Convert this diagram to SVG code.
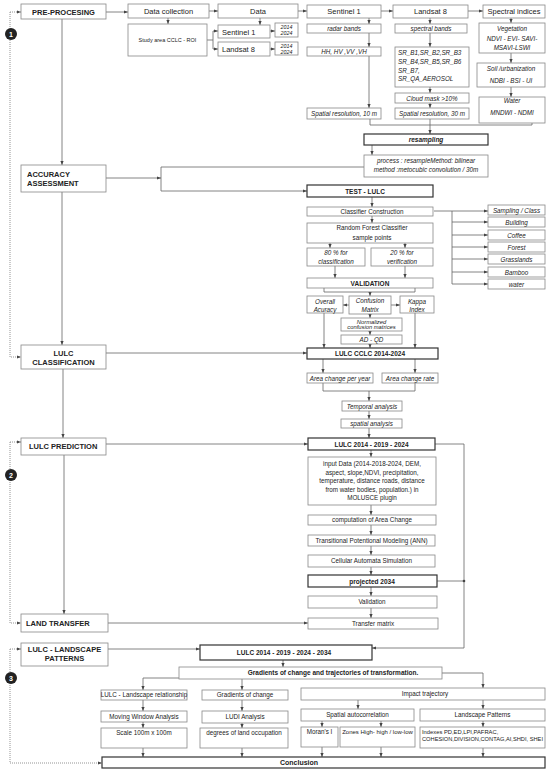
<svg xmlns="http://www.w3.org/2000/svg" width="550" height="774" viewBox="0 0 550 774">
<style>
text{font-family:"Liberation Sans",Arial,sans-serif;fill:#222;text-anchor:middle}
.b{fill:#fff;stroke:#888;stroke-width:0.8}
.k{fill:#fff;stroke:#333;stroke-width:1.2}
.l{fill:none;stroke:#666;stroke-width:0.8}
.d{fill:none;stroke:#888;stroke-width:0.9;stroke-dasharray:1 1}
.h{font-weight:bold;font-size:7.5px}
.m{font-size:7.5px}
.t{font-size:6.3px}
.i{font-size:6.3px;font-style:italic}
.s{font-weight:bold;font-size:6.5px}
.la{text-anchor:start}
.c{fill:#222}
.n{fill:#fff;font-weight:bold;font-size:7px}
</style>
<defs>
<marker id="a" markerUnits="userSpaceOnUse" markerWidth="4" markerHeight="4" viewBox="0 0 4 4" refX="4" refY="2" orient="auto"><path d="M0,0.4L4,2L0,3.6z" fill="#444"/></marker>
</defs>
<rect width="550" height="774" fill="#fff"/>
<g id="connectors">
<g class="l" marker-end="url(#a)">
<path d="M106,12H128"/><path d="M209,11H218"/><path d="M298,11H307"/><path d="M381,11H393"/><path d="M468,11H483"/>
<path d="M168,18V24"/><path d="M260,18V25"/>
<path d="M213,31H218"/><path d="M213,49H218"/>
<path d="M270,31H275"/><path d="M270,49H275"/>
<path d="M369,18V24"/><path d="M369,33V47"/><path d="M369,56V108"/>
<path d="M430,18V24"/><path d="M430,33V47"/><path d="M430,87V93"/><path d="M430,103V108"/>
<path d="M511,18V23"/><path d="M511,53V63"/><path d="M511,87V97"/>
<path d="M430,119V134"/><path d="M372,145V155"/>
<path d="M364,167H161V191H307"/><path d="M106,178H161"/>
<path d="M372,197V207"/><path d="M372,216V223"/>
<path d="M330,243V248"/><path d="M405,243V248"/>
<path d="M335,266V278"/><path d="M405,266V278"/>
<path d="M370,292V296"/>
<path d="M349,305H343"/><path d="M391,305H400"/>
<path d="M370,314V318"/><path d="M370,331V335"/><path d="M370,344V348"/>
<path d="M324,313V348"/><path d="M415,313V348"/>
<path d="M106,353H307"/>
<path d="M323,359V373"/><path d="M415,359V373"/>
<path d="M369,391V401"/><path d="M369,411V419"/><path d="M369,428V438"/>
<path d="M106,444H308"/>
<path d="M371,450V457"/><path d="M371,505V515"/><path d="M371,525V535"/><path d="M371,546V555"/><path d="M371,567V575"/><path d="M371,587V596"/><path d="M371,608V618"/>
<path d="M435,444H464V648H372"/>
<path d="M108,623H308"/><path d="M108,649H200"/>
<path d="M283,660V667"/>
<path d="M179,678H143V690"/><path d="M242,679V690"/><path d="M442,673H483V688"/>
<path d="M143,700V711"/><path d="M143,722V728"/><path d="M143,748V757"/>
<path d="M242,700V711"/><path d="M242,723V728"/><path d="M242,748V757"/>
<path d="M358,700V709"/><path d="M483,700V709"/>
<path d="M322,721V727"/><path d="M381,721V727"/><path d="M483,721V727"/>
<path d="M322,747V757"/><path d="M381,747V757"/><path d="M483,748V757"/>
<path d="M434,211H488"/><path d="M452,222H488"/><path d="M452,235H488"/><path d="M452,247H488"/><path d="M452,259H488"/><path d="M452,272H488"/><path d="M452,284H488"/>
<path d="M62,19V165"/><path d="M62,192V345"/><path d="M63,369V438"/><path d="M64,455V614"/>
</g>
<g class="l">
<path d="M207,40H213M213,31V49"/>
<path d="M370,119V125H532V123"/>
<path d="M324,288V292H415V288"/>
<path d="M323,383V391H415V383"/>
<path d="M437,581H464"/>
<path d="M452,211V284"/>
</g>
<circle cx="464" cy="581" r="1.3" fill="#444"/>
<g class="d" marker-end="url(#a)">
<path d="M10,12H21"/><path d="M10,12V357H21"/>
<path d="M10,442H21"/><path d="M10,442V623H21"/>
<path d="M10,649H21"/><path d="M10,649V763H102"/>
</g>
</g>
<g id="markers-num">
<g id="n1"><circle class="c" cx="11" cy="34" r="6"/><text class="n" x="11" y="36.5">1</text></g>
<g id="n2"><circle class="c" cx="11" cy="475" r="6"/><text class="n" x="11" y="477.5">2</text></g>
<g id="n3"><circle class="c" cx="11" cy="678" r="6"/><text class="n" x="11" y="680.5">3</text></g>
</g>
<g id="pre"><rect class="b" x="21" y="4" width="85" height="15"/><text class="h" x="63.5" y="14.5">PRE-PROCESING</text></g>
<g id="dcol"><rect class="b" x="128" y="4" width="81" height="14"/><text class="m" x="168.5" y="13.5">Data collection</text></g>
<g id="data"><rect class="b" x="218" y="4" width="80" height="14"/><text class="m" x="258" y="13.5">Data</text></g>
<g id="s1top"><rect class="b" x="307" y="5" width="74" height="13"/><text class="m" x="344" y="14">Sentinel 1</text></g>
<g id="l8top"><rect class="b" x="393" y="5" width="75" height="13"/><text class="m" x="430.5" y="14">Landsat 8</text></g>
<g id="spec"><rect class="b" x="483" y="5" width="62" height="13"/><text class="m" x="514" y="14">Spectral indices</text></g>
<g id="study"><rect class="b" x="128" y="24" width="79" height="32"/><text style="font-size:5.5px" x="167.5" y="42">Study area CCLC - ROI</text></g>
<g id="sen1"><rect class="b" x="218" y="25" width="52" height="13"/><text class="m la" x="222" y="34.5">Sentinel 1</text></g>
<g id="lan8"><rect class="b" x="218" y="42" width="52" height="14"/><text class="m la" x="222" y="52">Landsat 8</text></g>
<g id="y1"><rect class="b" x="275" y="23" width="23" height="14"/><text class="i" style="font-size:5.3px" x="286.5" y="29">2014</text><text class="i" style="font-size:5.3px" x="286.5" y="35">2024</text></g>
<g id="y2"><rect class="b" x="275" y="42" width="23" height="13"/><text class="i" style="font-size:5.3px" x="286.5" y="47.5">2014</text><text class="i" style="font-size:5.3px" x="286.5" y="53.5">2024</text></g>
<g id="radar"><rect class="b" x="307" y="24" width="74" height="9"/><text class="i" x="344" y="31">radar bands</text></g>
<g id="hh"><rect class="b" x="307" y="47" width="74" height="9"/><text class="i" x="344" y="54">HH, HV ,VV ,VH</text></g>
<g id="sr10"><rect class="b" x="307" y="108" width="74" height="11"/><text class="i" x="344" y="116">Spatial resolution, 10 m</text></g>
<g id="spb"><rect class="b" x="395" y="24" width="72" height="9"/><text class="i" x="431" y="31">spectral bands</text></g>
<g id="srb"><rect class="b" x="395" y="47" width="74" height="40"/>
<text class="i la" x="398" y="55">SR_B1,SR_B2,SR_B3</text><text class="i la" x="398" y="64">SR_B4,SR_B5,SR_B6</text><text class="i la" x="398" y="72.5">SR_B7,</text><text class="i la" x="398" y="81">SR_QA_AEROSOL</text></g>
<g id="cloud"><rect class="b" x="395" y="93" width="74" height="10"/><text class="i" x="432" y="100.5">Cloud mask &gt;10%</text></g>
<g id="sr30"><rect class="b" x="395" y="108" width="74" height="11"/><text class="i" x="432" y="116">Spatial resolution, 30 m</text></g>
<g id="veg"><rect class="b" x="479" y="23" width="66" height="30"/><text class="i" x="512" y="30.5">Vegetation</text><text class="i" x="512" y="41">NDVI - EVI- SAVI-</text><text class="i" x="512" y="50">MSAVI-LSWI</text></g>
<g id="soil"><rect class="b" x="477" y="63" width="68" height="24"/><text class="i" x="511" y="70.5">Soil /urbanization</text><text class="i" x="511" y="83">NDBI - BSI - UI</text></g>
<g id="water"><rect class="b" x="479" y="97" width="66" height="26"/><text class="i" x="512" y="103">Water</text><text class="i" x="512" y="114.5">MNDWI - NDMI</text></g>
<g id="resamp"><rect class="k" x="364" y="134" width="124" height="11"/><text class="s" style="font-style:italic" x="426" y="142">resampling</text></g>
<g id="proc"><rect class="b" x="364" y="155" width="124" height="22"/><text class="i" x="426" y="163">process : resampleMethod: bilinear</text><text class="i" x="426" y="172">method :metocubic convolution / 30m</text></g>
<g id="test"><rect class="k" x="307" y="185" width="126" height="12"/><text class="s" x="365" y="193.5">TEST - LULC</text></g>
<g id="cc"><rect class="b" x="307" y="207" width="126" height="9"/><text class="t" x="372" y="213.8">Classifier Construction</text></g>
<g id="rf"><rect class="b" x="307" y="223" width="126" height="20"/><text class="t" x="372" y="230">Random Forest Classifier</text><text class="t" x="372" y="239.5">sample points</text></g>
<g id="p80"><rect class="b" x="307" y="248" width="58" height="18"/><text class="i" x="336" y="255">80 % for</text><text class="i" x="336" y="264">classification</text></g>
<g id="p20"><rect class="b" x="371" y="248" width="62" height="18"/><text class="i" x="402" y="255">20 % for</text><text class="i" x="402" y="264">verification</text></g>
<g id="valid"><rect class="b" x="307" y="278" width="126" height="10"/><text class="s" x="370" y="285.5">VALIDATION</text></g>
<g id="oa"><rect class="b" x="307" y="296" width="36" height="17"/><text class="i" x="325" y="303.5">Overall</text><text class="i" x="325" y="311.5">Acuracy</text></g>
<g id="cm"><rect class="b" x="349" y="296" width="42" height="18"/><text class="i" x="370" y="302.5">Confusion</text><text class="i" x="370" y="311.5">Matrix</text></g>
<g id="kappa"><rect class="b" x="400" y="296" width="34" height="17"/><text class="i" x="417" y="303.5">Kappa</text><text class="i" x="417" y="311.5">Index</text></g>
<g id="ncm"><rect class="b" x="341" y="318" width="61" height="13"/><text class="i" style="font-size:5.8px" x="371.5" y="323.5">Normalized</text><text class="i" style="font-size:5.8px" x="371.5" y="329.3">confusion matrices</text></g>
<g id="adqd"><rect class="b" x="341" y="335" width="61" height="9"/><text class="i" x="371.5" y="341.8">AD - QD</text></g>
<g id="lulccclc"><rect class="k" x="307" y="348" width="131" height="11"/><text class="s" x="370" y="356">LULC CCLC 2014-2024</text></g>
<g id="acpy"><rect class="b" x="307" y="373" width="66" height="10"/><text class="i" x="340" y="380.5">Area change per year</text></g>
<g id="acr"><rect class="b" x="382" y="373" width="56" height="10"/><text class="i" x="410" y="380.5">Area change rate</text></g>
<g id="temp"><rect class="b" x="342" y="401" width="60" height="10"/><text class="i" x="372" y="408.5">Temporal analysis</text></g>
<g id="spat"><rect class="b" x="341" y="419" width="61" height="9"/><text class="i" x="371.5" y="426">spatial analysis</text></g>
<g id="lulc3"><rect class="k" x="308" y="438" width="127" height="12"/><text class="s" x="371.5" y="446.5">LULC 2014 - 2019 - 2024</text></g>
<g id="input"><rect class="b" x="308" y="457" width="128" height="48"/>
<text class="t" x="372" y="466">input Data (2014-2018-2024, DEM,</text>
<text class="t" x="372" y="474.5">aspect, slope,NDVI, precipitation,</text>
<text class="t" x="372" y="483">temperature, distance roads, distance</text>
<text class="t" x="372" y="491.5">from water bodies, population.) in</text>
<text class="t" x="372" y="500">MOLUSCE plugin</text></g>
<g id="comp"><rect class="b" x="308" y="515" width="128" height="10"/><text class="t" x="372" y="522">computation of Area Change</text></g>
<g id="tpm"><rect class="b" x="308" y="535" width="127" height="11"/><text class="t" x="371.5" y="542.8">Transitional Potentional Modeling  (ANN)</text></g>
<g id="cas"><rect class="b" x="308" y="555" width="127" height="12"/><text class="t" x="371.5" y="563">Cellular Automata Simulation</text></g>
<g id="proj"><rect class="k" x="308" y="575" width="129" height="12"/><text class="s" x="372" y="583.5">projected 2034</text></g>
<g id="val2"><rect class="b" x="308" y="596" width="129" height="12"/><text class="t" x="372" y="604">Validation</text></g>
<g id="tm"><rect class="b" x="308" y="618" width="130" height="11"/><text class="t" x="373" y="625.8">Transfer matrix</text></g>
<g id="acc"><rect class="b" x="21" y="165" width="85" height="27"/><text class="h la" x="27" y="176.5">ACCURACY</text><text class="h la" x="27" y="185.5">ASSESSMENT</text></g>
<g id="lulcclass"><rect class="b" x="21" y="345" width="85" height="24"/><text class="h" x="63.5" y="355.5">LULC</text><text class="h" x="63.5" y="364.5">CLASSIFICATION</text></g>
<g id="pred"><rect class="b" x="21" y="438" width="85" height="17"/><text class="h la" x="29" y="449">LULC PREDICTION</text></g>
<g id="lt"><rect class="b" x="21" y="614" width="87" height="18"/><text class="h la" x="26" y="625.5">LAND TRANSFER</text></g>
<g id="lp"><rect class="b" x="21" y="643" width="87" height="23"/><text class="h" x="64.5" y="651.5">LULC - LANDSCAPE</text><text class="h" x="64.5" y="661">PATTERNS</text></g>
<g id="classes">
<g id="c1"><rect class="b" x="488" y="205" width="57" height="10"/><text class="i" x="516.5" y="212.5">Sampling / Class</text></g>
<g id="c2"><rect class="b" x="488" y="217" width="57" height="10"/><text class="i" x="516.5" y="224.5">Building</text></g>
<g id="c3"><rect class="b" x="488" y="230" width="57" height="10"/><text class="i" x="516.5" y="237.5">Coffee</text></g>
<g id="c4"><rect class="b" x="488" y="242" width="57" height="10"/><text class="i" x="516.5" y="249.5">Forest</text></g>
<g id="c5"><rect class="b" x="488" y="254" width="57" height="10"/><text class="i" x="516.5" y="261.5">Grasslands</text></g>
<g id="c6"><rect class="b" x="488" y="267" width="57" height="10"/><text class="i" x="516.5" y="274.5">Bamboo</text></g>
<g id="c7"><rect class="b" x="488" y="279" width="57" height="10"/><text class="i" x="516.5" y="286.5">water</text></g>
</g>
<g id="lulc4"><rect class="k" x="200" y="645" width="172" height="15"/><text class="s" x="284" y="655.3">LULC 2014 - 2019 - 2024 - 2034</text></g>
<g id="grad"><rect class="b" x="179" y="667" width="263" height="12"/><text class="s" x="333" y="675.3">Gradients of change and trajectories of transformation.</text></g>
<g id="llr"><rect class="b" x="101" y="690" width="86" height="10"/><text class="t" x="144" y="697.3">LULC - Landscape relationship</text></g>
<g id="goc"><rect class="b" x="202" y="690" width="86" height="10"/><text class="t" x="245" y="697.3">Gradients of change</text></g>
<g id="imp"><rect class="b" x="301" y="688" width="244" height="12"/><text class="t" x="425" y="696.3">Impact trajectory</text></g>
<g id="mwa"><rect class="b" x="101" y="711" width="86" height="11"/><text class="t" x="144" y="718.5">Moving Window Analysis</text></g>
<g id="ludi"><rect class="b" x="202" y="711" width="86" height="12"/><text class="t" x="245" y="719">LUDI Analysis</text></g>
<g id="sac"><rect class="b" x="301" y="709" width="113" height="12"/><text class="t" x="357.5" y="717.3">Spatial autocorrelation</text></g>
<g id="lpat"><rect class="b" x="420" y="709" width="125" height="12"/><text class="t" x="482.5" y="717.3">Landscape Patterns</text></g>
<g id="scale"><rect class="b" x="101" y="728" width="86" height="20"/><text class="t" x="144" y="735.3">Scale 100m x 100m</text></g>
<g id="deg"><rect class="b" x="200" y="728" width="88" height="20"/><text class="t" x="244" y="735.3">degrees of land occupation</text></g>
<g id="moran"><rect class="b" x="301" y="727" width="37" height="20"/><text class="t" x="319.5" y="734">Moran's I</text></g>
<g id="zones"><rect class="b" x="340" y="727" width="75" height="20"/><text class="t" style="font-size:6px" x="377.5" y="734">Zones High- high / low-low</text></g>
<g id="idx"><rect class="b" x="420" y="727" width="125" height="21"/><text class="t la" style="font-size:5.8px" x="422" y="734">Indexes  PD,ED,LPI,PAFRAC,</text><text class="t la" style="font-size:5.7px" x="422" y="741" textLength="121" lengthAdjust="spacingAndGlyphs">COHESION,DIVISION,CONTAG,AI,SHDI, SHEI</text></g>
<g id="concl"><rect class="k" x="102" y="757" width="443" height="11"/><text class="h la" style="font-size:7px" x="280" y="765">Conclusion</text></g>
</svg>
